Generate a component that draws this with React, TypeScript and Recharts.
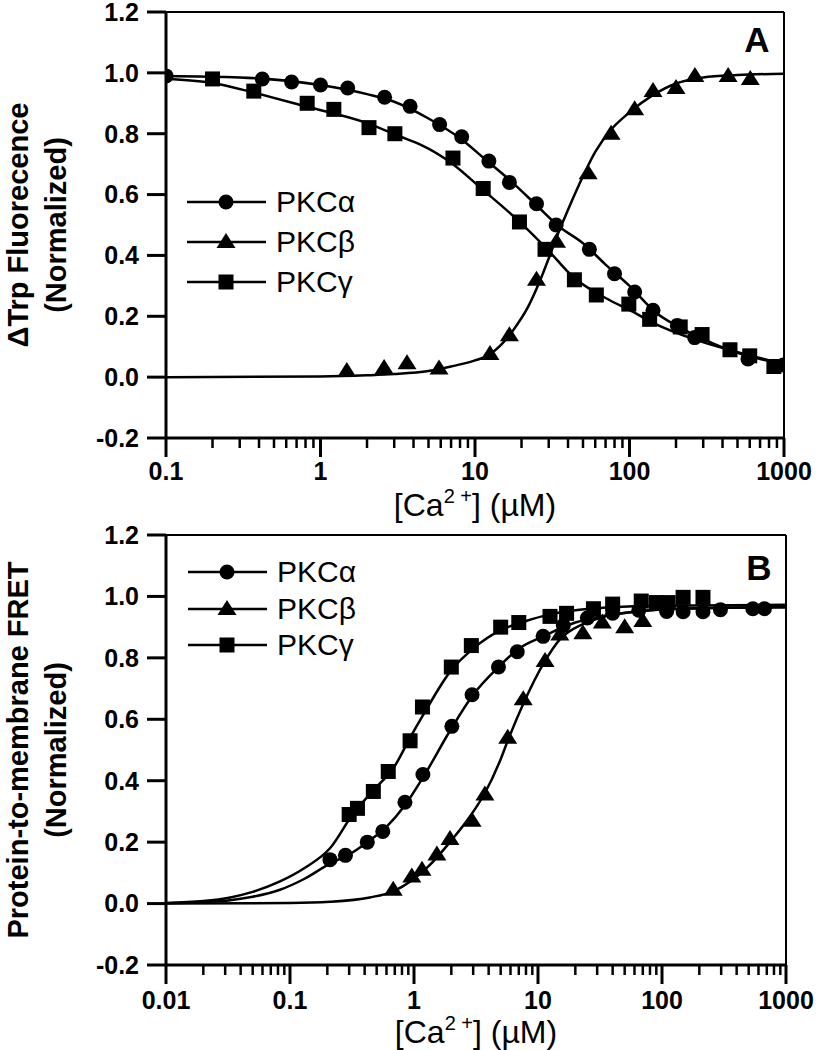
import { ComposedChart, Line, Scatter, XAxis, YAxis, ReferenceLine, Legend } from 'recharts'

const FONT = '"Liberation Sans", Arial, Helvetica, sans-serif'

// ---- Panel A: Trp fluorescence change ----
const alphaAConc = [0.1, 0.42, 0.65, 1.0, 1.5, 2.6, 3.8, 5.9, 8.2, 12.3, 16.7, 25, 33.5, 55, 80, 108, 142, 204, 264, 585, 990]
const alphaAVal = [0.99, 0.98, 0.97, 0.96, 0.95, 0.92, 0.89, 0.83, 0.79, 0.71, 0.64, 0.57, 0.5, 0.42, 0.34, 0.28, 0.22, 0.17, 0.13, 0.06, 0.04]
const betaAConc = [1.48, 2.58, 3.63, 5.85, 12.5, 16.7, 25, 33.7, 54, 76, 108, 142, 200, 265, 435, 605]
const betaAVal = [0.02, 0.03, 0.046, 0.028, 0.076, 0.138, 0.32, 0.445, 0.67, 0.8, 0.88, 0.94, 0.95, 0.99, 0.99, 0.98]
const gammaAConc = [0.2, 0.37, 0.82, 1.22, 2.06, 3.03, 7.2, 11.3, 19.4, 28.4, 44, 61, 99, 135, 213, 295, 447, 600, 860]
const gammaAVal = [0.98, 0.94, 0.9, 0.88, 0.82, 0.8, 0.72, 0.62, 0.51, 0.42, 0.32, 0.27, 0.24, 0.19, 0.165, 0.14, 0.09, 0.07, 0.035]

// fitted curves
const alphaAFitConc = [0.1, 0.3, 1, 2, 3, 5, 8, 12, 17, 25, 35, 50, 70, 100, 150, 200, 300, 500, 1000]
const alphaAFitVal = [0.99, 0.985, 0.96, 0.93, 0.905, 0.85, 0.785, 0.71, 0.645, 0.565, 0.495, 0.44, 0.37, 0.3, 0.21, 0.17, 0.125, 0.08, 0.043]
const betaAFitConc = [0.1, 1, 2, 3, 5, 7, 10, 12, 15, 18, 22, 26, 30, 35, 40, 50, 60, 75, 100, 140, 200, 300, 500, 1000]
const betaAFitVal = [0, 0.002, 0.006, 0.01, 0.02, 0.035, 0.055, 0.07, 0.11, 0.16, 0.23, 0.31, 0.39, 0.48, 0.55, 0.66, 0.74, 0.81, 0.87, 0.925, 0.965, 0.985, 0.993, 0.997]
const gammaAFitConc = [0.1, 0.2, 0.37, 0.8, 2, 3.3, 4.4, 7.2, 11, 19, 30, 43, 70, 105, 140, 260, 470, 1000]
const gammaAFitVal = [0.98, 0.967, 0.935, 0.89, 0.835, 0.79, 0.765, 0.7, 0.62, 0.515, 0.415, 0.33, 0.26, 0.215, 0.18, 0.125, 0.086, 0.043]

// ---- Panel B: protein-to-membrane FRET ----
const alphaBConc = [0.21, 0.28, 0.42, 0.56, 0.845, 1.18, 2.02, 2.94, 4.8, 6.8, 11, 16, 25, 40, 65, 109, 148, 214, 296, 540, 670]
const alphaBVal = [0.143, 0.157, 0.2, 0.235, 0.33, 0.42, 0.577, 0.68, 0.77, 0.82, 0.87, 0.905, 0.93, 0.945, 0.955, 0.951, 0.95, 0.95, 0.957, 0.96, 0.96]
const betaBConc = [0.68, 0.96, 1.16, 1.53, 1.95, 2.94, 3.73, 5.7, 7.6, 11.4, 15, 23, 33, 50, 70]
const betaBVal = [0.045, 0.088, 0.11, 0.16, 0.21, 0.27, 0.355, 0.54, 0.665, 0.79, 0.876, 0.88, 0.915, 0.9, 0.92]
const gammaBConc = [0.3, 0.35, 0.47, 0.62, 0.93, 1.17, 2.0, 2.9, 5.0, 7.0, 12.5, 17, 28, 40, 68, 90, 112, 148, 214]
const gammaBVal = [0.29, 0.31, 0.365, 0.43, 0.53, 0.64, 0.77, 0.84, 0.9, 0.915, 0.935, 0.945, 0.96, 0.975, 0.985, 0.98, 0.98, 0.997, 0.997]

const alphaBFitConc = [0.01, 0.02, 0.033, 0.05, 0.083, 0.13, 0.21, 0.3, 0.42, 0.6, 0.845, 1.18, 2, 3, 4.8, 7, 11, 20, 32, 60, 110, 300, 1000]
const alphaBFitVal = [0.001, 0.005, 0.011, 0.022, 0.045, 0.08, 0.13, 0.16, 0.2, 0.25, 0.32, 0.41, 0.57, 0.68, 0.77, 0.83, 0.87, 0.915, 0.935, 0.95, 0.958, 0.963, 0.965]
const betaBFitConc = [0.01, 0.1, 0.21, 0.44, 0.68, 0.96, 1.3, 1.95, 2.9, 3.73, 5, 5.7, 7.6, 11.4, 15, 23, 35, 60, 100, 300, 1000]
const betaBFitVal = [0, 0.002, 0.006, 0.02, 0.04, 0.075, 0.12, 0.2, 0.29, 0.36, 0.47, 0.53, 0.65, 0.79, 0.86, 0.91, 0.935, 0.95, 0.958, 0.963, 0.965]
const gammaBFitConc = [0.01, 0.02, 0.033, 0.05, 0.083, 0.13, 0.21, 0.32, 0.5, 0.68, 0.93, 1.17, 2, 3, 5, 8, 12, 20, 40, 100, 1000]
const gammaBFitVal = [0.002, 0.008, 0.02, 0.038, 0.072, 0.115, 0.18, 0.29, 0.38, 0.44, 0.54, 0.61, 0.76, 0.83, 0.89, 0.92, 0.94, 0.955, 0.965, 0.97, 0.973]

// axes
const decadesA = [0.1, 1, 10, 100, 1000]
const decadesB = [0.01, 0.1, 1, 10, 100, 1000]
const minorSteps = [2, 3, 4, 5, 6, 7, 8, 9]
const yTicks = [-0.2, 0, 0.2, 0.4, 0.6, 0.8, 1.0, 1.2]
const seriesNames = ['PKCα', 'PKCβ', 'PKCγ']

const zip = (xs: number[], ys: number[]) => xs.map((x, i) => ({ x, y: ys[i] }))

function logTicks(decades: number[]) {
  const minors = decades.slice(0, -1).flatMap(d => minorSteps.map(m => +(m * d).toPrecision(6)))
  return [...decades, ...minors].sort((a, b) => a - b)
}

const CircleMark = (p: any) => <circle cx={p.cx} cy={p.cy} r={7.5} fill="#000" />
const SquareMark = (p: any) => <rect x={p.cx - 7.5} y={p.cy - 7.5} width={15} height={15} fill="#000" />
const TriangleMark = (p: any) => (
  <polygon points={`${p.cx},${p.cy - 9} ${p.cx - 9.5},${p.cy + 6} ${p.cx + 9.5},${p.cy + 6}`} fill="#000" />
)
const marks = [CircleMark, TriangleMark, SquareMark]

function LogTick(props: any) {
  const { x, y, payload, majors, labelDy } = props
  const v = payload.value
  const major = majors.some((m: number) => Math.abs(m - v) / m < 1e-6)
  return (
    <g>
      <line x1={x} x2={x} y1={y} y2={y + (major ? 19 : 10)} stroke="#000" strokeWidth={major ? 3 : 2.5} />
      {major && (
        <text x={x} y={y + labelDy} textAnchor="middle" fontSize={25} fontWeight="bold" fontFamily={FONT} fill="#000">
          {String(v)}
        </text>
      )}
    </g>
  )
}

function YTitle({ viewBox, lines }: any) {
  const vb = viewBox || { x: 0, y: 12, width: 166, height: 426 }
  const cy = vb.y + vb.height / 2
  const xs = [18, 56]
  return (
    <g>
      {lines.map((t: string, i: number) => (
        <text key={i} x={xs[i]} y={cy} transform={`rotate(-90 ${xs[i]} ${cy})`} textAnchor="middle"
          dominantBaseline="central" fontSize={29} fontWeight="bold" fontFamily={FONT} fill="#000">
          {t}
        </text>
      ))}
    </g>
  )
}

function XTitle({ viewBox, dy }: any) {
  const vb = viewBox || { x: 166, y: 438, width: 618, height: 82 }
  const cx = vb.x + vb.width / 2
  return (
    <text x={cx} y={vb.y + dy} textAnchor="middle" fontSize={32} fontFamily={FONT} fill="#000">
      [Ca<tspan fontSize={20} dy={-13}>2 +</tspan><tspan dy={13}>] (µM)</tspan>
    </text>
  )
}

function LegendBox({ rowH }: { rowH: number }) {
  return (
    <div style={{ fontFamily: FONT }}>
      {seriesNames.map((name, i) => {
        const Mark = marks[i]
        return (
          <div key={name} style={{ display: 'flex', alignItems: 'center', height: rowH }}>
            <svg width={80} height={24}>
              <line x1={0} x2={79} y1={12} y2={12} stroke="#000" strokeWidth={2.5} />
              <Mark cx={39} cy={12} />
            </svg>
            <span style={{ fontSize: 30, marginLeft: 9, lineHeight: 1 }}>{name}</span>
          </div>
        )
      })}
    </div>
  )
}

type PanelProps = {
  height: number
  top: number
  plotH: number
  right: number
  decades: number[]
  labelDy: number
  titleDy: number
  yTitle: string[]
  points: { x: number; y: number }[][]
  fits: { x: number; y: number }[][]
  legendTop: number
  legendLeft: number
  rowH: number
}

function Panel(p: PanelProps) {
  const xAxisH = p.height - p.top - p.plotH
  return (
    <ComposedChart width={820} height={p.height} margin={{ top: p.top, right: p.right, bottom: 0, left: 0 }}>
      <XAxis type="number" dataKey="x" scale="log" domain={[p.decades[0], p.decades[p.decades.length - 1]]}
        allowDataOverflow ticks={logTicks(p.decades)} interval={0} height={xAxisH} tickSize={0} tickMargin={0}
        tickLine={false} axisLine={{ stroke: '#000', strokeWidth: 3 }}
        tick={(t: any) => <LogTick {...t} majors={p.decades} labelDy={p.labelDy} />}
        label={{ content: (l: any) => <XTitle {...l} dy={p.titleDy} /> }} />
      <YAxis type="number" dataKey="y" domain={[-0.2, 1.2]} allowDataOverflow ticks={yTicks} interval={0}
        width={166} tickSize={19} tickMargin={8} tickFormatter={(v: number) => v.toFixed(1)}
        tick={{ fill: '#000', fontSize: 25, fontWeight: 'bold', fontFamily: FONT }}
        tickLine={{ stroke: '#000', strokeWidth: 3 }} axisLine={{ stroke: '#000', strokeWidth: 3 }}
        label={{ content: (l: any) => <YTitle {...l} lines={p.yTitle} /> }} />
      <ReferenceLine y={1.2} stroke="#000" strokeWidth={2} />
      <ReferenceLine x={p.decades[p.decades.length - 1]} stroke="#000" strokeWidth={2} />
      {p.fits.map((d, i) => (
        <Line key={'fit' + i} data={d} dataKey="y" type="monotone" dot={false} stroke="#000" strokeWidth={2.5}
          isAnimationActive={false} legendType="none" />
      ))}
      {p.points.map((d, i) => {
        const Mark = marks[i]
        return (
          <Scatter key={'pts' + i} name={seriesNames[i]} data={d} dataKey="y" shape={(s: any) => <Mark {...s} />}
            isAnimationActive={false} />
        )
      })}
      <Legend layout="vertical" align="center" verticalAlign="middle"
        wrapperStyle={{ left: p.legendLeft, top: p.legendTop, width: 'auto' }}
        content={() => <LegendBox rowH={p.rowH} />} />
    </ComposedChart>
  )
}

export default function App() {
  return (
    <div style={{ position: 'absolute', left: 0, top: 0, width: 820, height: 1050, background: '#fff', fontFamily: FONT }}>
      <div style={{ position: 'absolute', left: 0, top: 0 }}>
        <Panel height={528} top={12} plotH={426} right={36} decades={decadesA} labelDy={42} titleDy={78}
          yTitle={['ΔTrp Fluorecence', '(Normalized)']}
          points={[zip(alphaAConc, alphaAVal), zip(betaAConc, betaAVal), zip(gammaAConc, gammaAVal)]}
          fits={[zip(alphaAFitConc, alphaAFitVal), zip(betaAFitConc, betaAFitVal), zip(gammaAFitConc, gammaAFitVal)]}
          legendLeft={187} legendTop={182} rowH={40} />
      </div>
      <div style={{ position: 'absolute', left: 0, top: 520 }}>
        <Panel height={530} top={15} plotH={430} right={34} decades={decadesB} labelDy={44} titleDy={78}
          yTitle={['Protein-to-membrane FRET', '(Normalized)']}
          points={[zip(alphaBConc, alphaBVal), zip(betaBConc, betaBVal), zip(gammaBConc, gammaBVal)]}
          fits={[zip(alphaBFitConc, alphaBFitVal), zip(betaBFitConc, betaBFitVal), zip(gammaBFitConc, gammaBFitVal)]}
          legendLeft={188} legendTop={34} rowH={36.5} />
      </div>
      <svg width={820} height={1050} style={{ position: 'absolute', left: 0, top: 0, pointerEvents: 'none' }}>
        <text x={757} y={52} textAnchor="middle" fontSize={35} fontWeight="bold" fontFamily={FONT}>A</text>
        <text x={759} y={580} textAnchor="middle" fontSize={35} fontWeight="bold" fontFamily={FONT}>B</text>
      </svg>
    </div>
  )
}
